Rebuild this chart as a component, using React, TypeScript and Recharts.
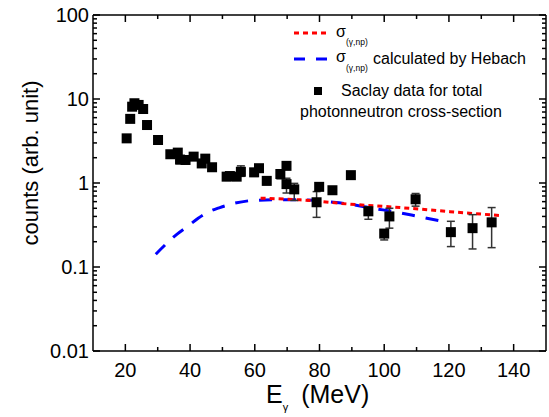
import React from 'react';
import { ComposedChart, Line, Scatter, XAxis, YAxis, ErrorBar, Legend } from 'recharts';

const FONT = '"Liberation Sans", Arial, sans-serif';

// Saclay data (total photonneutron cross-section)
const sacE = [20.4, 21.5, 22.1, 22.8, 24.1, 25.5, 26.7, 30.1, 33.9, 36.2, 36.9, 38.6, 41.1, 43.6, 44.7, 46.8, 51.3, 52.3, 54.4, 55.7, 59.8, 61.3, 63.7, 67.9, 69.8, 69.8, 72.2, 79.1, 79.9, 84.0, 89.7, 95.1, 100.0, 101.6, 109.7, 120.6, 127.3, 133.2];
const sacV = [3.4, 5.8, 8.1, 8.9, 8.5, 7.6, 4.9, 3.25, 2.2, 2.3, 1.9, 1.88, 2.06, 1.71, 1.95, 1.54, 1.19, 1.21, 1.19, 1.36, 1.34, 1.5, 1.06, 1.28, 1.6, 0.97, 0.84, 0.59, 0.9, 0.82, 1.24, 0.46, 0.25, 0.4, 0.64, 0.26, 0.29, 0.34];
const sacLo = [3.1, 5.3, 7.5, 8.3, 7.9, 7.0, 4.6, 3.05, 2.05, 2.05, 1.7, 1.7, 1.92, 1.55, 1.75, 1.42, 1.08, 1.12, 1.08, 1.2, 1.2, 1.38, 0.96, 1.12, 1.5, 0.76, 0.62, 0.39, 0.82, 0.75, 1.14, 0.37, 0.21, 0.29, 0.53, 0.175, 0.164, 0.17];
const sacHi = [3.7, 6.3, 8.7, 9.5, 9.1, 8.2, 5.2, 3.45, 2.35, 2.55, 2.1, 2.05, 2.2, 1.88, 2.15, 1.66, 1.3, 1.3, 1.3, 1.6, 1.45, 1.62, 1.16, 1.38, 1.7, 1.14, 0.99, 0.79, 0.98, 0.9, 1.35, 0.52, 0.275, 0.5, 0.75, 0.35, 0.42, 0.51];

// sigma(gamma,np)
const npE = [61.8, 74, 89.4, 104.9, 120.3, 135.8];
const npV = [0.66, 0.63, 0.56, 0.51, 0.456, 0.41];

// sigma(gamma,np) calculated by Hebach
const hebE = [29.4, 35.9, 39, 42.5, 45.6, 49.2, 53.4, 59.5, 65.7, 72.9, 84.3, 89.4, 96.6, 103.8, 110.5, 117.2];
const hebV = [0.142, 0.245, 0.3, 0.38, 0.45, 0.51, 0.57, 0.62, 0.63, 0.63, 0.59, 0.56, 0.5, 0.45, 0.4, 0.355];

const xTicks = [20, 30, 40, 50, 60, 70, 80, 90, 100, 110, 120, 130, 140];
const yDecades = [0.01, 0.1, 1, 10, 100];
const yMinor = [2, 3, 4, 5, 6, 7, 8, 9];
const yTicks = yDecades.flatMap((d) => (d < 100 ? [d, ...yMinor.map((m) => d * m)] : [d]));

const sacData = sacE.map((E, i) => ({ E, v: sacV[i], err: [sacV[i] - sacLo[i], sacHi[i] - sacV[i]] }));
const npData = npE.map((E, i) => ({ E, v: npV[i] }));
const hebData = hebE.map((E, i) => ({ E, v: hebV[i] }));

const isDecade = (v: number) => Math.abs(Math.log10(v) - Math.round(Math.log10(v))) < 1e-6;

const BottomTick = ({ x, y, payload }: any) => {
  const major = payload.value % 20 === 0;
  return (
    <g>
      <line x1={x} x2={x} y1={y} y2={y - (major ? 7 : 4)} stroke="#000" strokeWidth={1.5} />
      {major && (
        <text x={x} y={y + 26} textAnchor="middle" fontSize={20} fontFamily={FONT} fill="#000">
          {payload.value}
        </text>
      )}
    </g>
  );
};

const TopTick = ({ x, y, payload }: any) => {
  const major = payload.value % 20 === 0;
  return <line x1={x} x2={x} y1={y} y2={y + (major ? 7 : 4)} stroke="#000" strokeWidth={1.5} />;
};

const LeftTick = ({ x, y, payload }: any) => {
  const major = isDecade(payload.value);
  return (
    <g>
      <line x1={x} x2={x + (major ? 7 : 4)} y1={y} y2={y} stroke="#000" strokeWidth={1.5} />
      {major && (
        <text x={x - 4} y={y + 7} textAnchor="end" fontSize={20} fontFamily={FONT} fill="#000">
          {String(payload.value)}
        </text>
      )}
    </g>
  );
};

const RightTick = ({ x, y, payload }: any) => {
  const major = isDecade(payload.value);
  return <line x1={x} x2={x - (major ? 7 : 4)} y1={y} y2={y} stroke="#000" strokeWidth={1.5} />;
};

const SquareDot = (props: any) => (
  <rect x={props.cx - 5} y={props.cy - 5} width={10} height={10} fill="#000" />
);

const XTitle = () => (
  <text x={266} y={403} fontFamily={FONT} fill="#000" fontSize={25}>
    <tspan>E</tspan>
    <tspan fontSize={11} dy={8}>γ</tspan>
    <tspan dy={-8} dx={13}>(MeV)</tspan>
  </text>
);

const YTitle = () => (
  <text x={38} y={163} transform="rotate(-90 38 163)" textAnchor="middle" fontFamily={FONT} fontSize={22} fill="#000">
    counts (arb. unit)
  </text>
);

const renderLegend = () => (
  <svg width={549} height={130} style={{ display: 'block' }} fontFamily={FONT}>
    <line x1={294} x2={328} y1={33} y2={33} stroke="#ff0000" strokeWidth={3} strokeDasharray="5 4" />
    <text x={336} y={37} fontSize={16} fill="#000">σ</text>
    <text x={346} y={45} fontSize={8.5} fill="#000">(γ,np)</text>

    <line x1={294} x2={328} y1={59} y2={59} stroke="#0000ff" strokeWidth={3} strokeDasharray="11 11" />
    <text x={336} y={62} fontSize={16} fill="#000">σ</text>
    <text x={346} y={71} fontSize={8.5} fill="#000">(γ,np)</text>
    <text x={373} y={64} fontSize={16} fill="#000">calculated by Hebach</text>

    <rect x={314} y={87} width={8} height={8} fill="#000" />
    <text x={341} y={96} fontSize={16} fill="#000">Saclay data for total</text>
    <text x={300} y={117} fontSize={16} fill="#000">photonneutron cross-section</text>
  </svg>
);

export default function App() {
  return (
    <div style={{ position: 'absolute', left: 0, top: 0, width: 549, height: 417, background: '#fff' }}>
      <ComposedChart width={549} height={417} margin={{ top: 14, right: 2, left: 33, bottom: 0 }}>
        <XAxis
          xAxisId="bottom"
          dataKey="E"
          type="number"
          domain={[10, 150]}
          ticks={xTicks}
          interval={0}
          tickSize={0}
          tickMargin={0}
          tick={<BottomTick />}
          height={66}
          axisLine={{ stroke: '#000', strokeWidth: 1.5 }}
          allowDataOverflow
          label={XTitle}
        />
        <XAxis
          xAxisId="top"
          orientation="top"
          dataKey="E"
          type="number"
          domain={[10, 150]}
          ticks={xTicks}
          interval={0}
          tickSize={0}
          tickMargin={0}
          tick={<TopTick />}
          height={1}
          axisLine={{ stroke: '#000', strokeWidth: 1.5 }}
          allowDataOverflow
        />
        <YAxis
          yAxisId="left"
          type="number"
          scale="log"
          domain={[0.01, 100]}
          ticks={yTicks}
          interval={0}
          tickSize={0}
          tickMargin={0}
          tick={<LeftTick />}
          width={60}
          axisLine={{ stroke: '#000', strokeWidth: 1.5 }}
          allowDataOverflow
          label={YTitle}
        />
        <YAxis
          yAxisId="right"
          orientation="right"
          type="number"
          scale="log"
          domain={[0.01, 100]}
          ticks={yTicks}
          interval={0}
          tickSize={0}
          tickMargin={0}
          tick={<RightTick />}
          width={1}
          axisLine={{ stroke: '#000', strokeWidth: 1.5 }}
          allowDataOverflow
        />
        <Legend
          content={renderLegend}
          layout="vertical"
          align="center"
          verticalAlign="middle"
          wrapperStyle={{ left: 0, top: 0, width: 549, height: 130 }}
        />
        <Line
          xAxisId="bottom"
          yAxisId="left"
          data={hebData}
          dataKey="v"
          type="monotone"
          stroke="#0000ff"
          strokeWidth={3}
          strokeDasharray="13 11"
          dot={false}
          activeDot={false}
          isAnimationActive={false}
        />
        <Line
          xAxisId="bottom"
          yAxisId="left"
          data={npData}
          dataKey="v"
          type="monotone"
          stroke="#ff0000"
          strokeWidth={3}
          strokeDasharray="5 4"
          dot={false}
          activeDot={false}
          isAnimationActive={false}
        />
        <Scatter
          xAxisId="bottom"
          yAxisId="left"
          data={sacData}
          dataKey="v"
          shape={<SquareDot />}
          isAnimationActive={false}
        >
          <ErrorBar dataKey="err" direction="y" width={4} stroke="#333" strokeWidth={1.5} />
        </Scatter>
      </ComposedChart>
    </div>
  );
}
